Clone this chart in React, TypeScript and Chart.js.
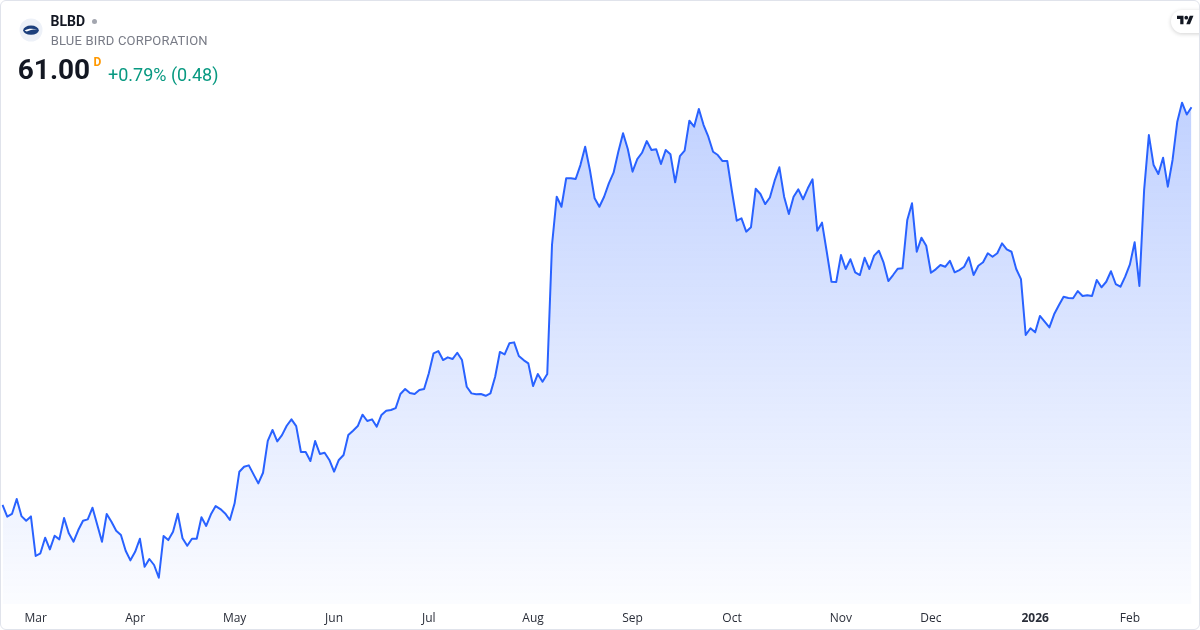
import React, { useEffect, useRef } from 'react';
import { Chart, registerables } from 'chart.js';

Chart.register(...registerables);

// ---- data ----
const START_DATE = '2025-02-20';
const END_DATE = '2026-02-20';
const MARKET_HOLIDAYS = [
  '2025-04-18', '2025-05-26', '2025-06-19', '2025-07-04', '2025-09-01',
  '2025-11-27', '2025-12-25', '2026-01-01', '2026-01-19', '2026-02-16',
];
const MONTH_LABELS = ['Jan', 'Feb', 'Mar', 'Apr', 'May', 'Jun', 'Jul', 'Aug', 'Sep', 'Oct', 'Nov', 'Dec'];

// daily closes, Feb 20 2025 – Jun 30 2025
const closesFebJun = [
  34.49, 33.71, 33.89, 34.89, 33.75, 33.44, 33.73, 31.09, 31.27, 32.31,
  31.53, 32.44, 32.20, 33.62, 32.60, 32.04, 32.82, 33.44, 33.53, 34.31,
  33.17, 32.04, 33.89, 33.37, 32.77, 32.49, 31.44, 30.80, 31.37, 32.24,
  30.37, 30.89, 30.49, 29.64, 32.42, 32.15, 32.71, 33.91, 32.27, 31.77,
  32.24, 32.24, 33.67, 33.09, 33.87, 34.42, 34.22, 33.93, 33.49, 34.60,
  36.71, 37.04, 37.13, 36.53, 35.93, 36.64, 38.77, 39.49, 38.73, 39.15,
  39.77, 40.20, 39.75, 38.02, 38.02, 37.42, 38.75, 37.89, 37.97, 37.49,
  36.71, 37.49, 37.82, 39.15, 39.44, 39.75, 40.51, 40.09, 40.20, 39.71,
  40.49, 40.77, 40.82, 40.95, 41.89, 42.22, 41.95, 41.89, 42.15, 42.22,
];
// daily closes, Jul 1 2025 – Dec 31 2025
const closesJulDec = [
  43.27, 44.60, 44.75, 44.15, 44.33, 44.22, 44.64, 44.15, 42.37, 41.93,
  41.87, 41.89, 41.77, 41.93, 43.04, 44.69, 44.53, 45.27, 45.33, 44.42,
  44.15, 43.93, 42.42, 43.22, 42.71, 43.22, 51.82, 55.04, 54.37, 56.27,
  56.27, 56.22, 57.15, 58.37, 56.82, 54.93, 54.37, 55.04, 55.93, 56.64,
  58.04, 59.27, 58.22, 56.71, 57.55, 57.97, 58.75, 58.15, 58.20, 57.22,
  58.15, 57.87, 56.00, 57.75, 58.11, 60.11, 59.71, 60.89, 59.82, 59.04,
  58.04, 57.82, 57.42, 57.42, 55.37, 53.44, 53.60, 52.71, 53.00, 55.57,
  55.22, 54.55, 54.99, 56.11, 57.00, 55.04, 53.89, 55.04, 55.53, 54.87,
  55.60, 56.20, 52.77, 53.31, 51.37, 49.37, 49.35, 51.15, 50.22, 50.87,
  50.00, 49.82, 50.97, 50.22, 51.11, 51.44, 50.64, 49.42, 49.82, 50.24,
  50.27, 53.49, 54.60, 51.37, 52.31, 51.77, 49.97, 50.20, 50.49, 50.37,
  50.77, 50.00, 50.15, 50.37, 51.00, 49.82, 50.44, 50.67, 51.27, 51.04,
  51.27, 51.93, 51.53, 51.37, 50.22, 49.55, 45.82, 46.27,
];
// daily closes, Jan 2 2026 – Feb 20 2026
const closes2026 = [
  46.00, 47.09, 46.71, 46.33, 47.20, 47.80, 48.37, 48.29, 48.27, 48.75,
  48.42, 48.47, 48.42, 49.49, 49.00, 49.37, 50.07, 49.22, 49.04, 49.71,
  50.53, 52.00, 49.09, 55.49, 59.15, 57.15, 56.55, 57.64, 55.71, 57.49,
  60.04, 61.31, 60.52, 61.00,
];
const closes = [...closesFebJun, ...closesJulDec, ...closes2026];

const Y_MIN = 27.89;
const Y_MAX = 62.82;

const LINE_COLOR = '#2962FF';
const AXIS_TEXT = '#2a2e39';

function buildTradingDays(start: string, end: string, holidays: string[]): Date[] {
  const out: Date[] = [];
  const hol = new Set(holidays);
  const d = new Date(start + 'T00:00:00Z');
  const e = new Date(end + 'T00:00:00Z');
  while (d.getTime() <= e.getTime()) {
    const wd = d.getUTCDay();
    const iso = d.toISOString().slice(0, 10);
    if (wd !== 0 && wd !== 6 && !hol.has(iso)) out.push(new Date(d.getTime()));
    d.setUTCDate(d.getUTCDate() + 1);
  }
  return out;
}

const TRADING_DAYS = buildTradingDays(START_DATE, END_DATE, MARKET_HOLIDAYS);

function tickLabel(i: number): string {
  if (i <= 0 || i >= TRADING_DAYS.length) return '';
  const d = TRADING_DAYS[i];
  const p = TRADING_DAYS[i - 1];
  if (d.getUTCMonth() === p.getUTCMonth()) return '';
  if (d.getUTCMonth() === 0) return String(d.getUTCFullYear());
  return MONTH_LABELS[d.getUTCMonth()];
}

export default function App() {
  const ref = useRef<HTMLCanvasElement | null>(null);

  useEffect(() => {
    document.body.style.margin = '0';
    const canvas = ref.current;
    if (!canvas) return;
    const labels = TRADING_DAYS.map((d) => d.toISOString().slice(0, 10));
    const chart = new Chart(canvas, {
      type: 'line',
      data: {
        labels,
        datasets: [
          {
            data: closes,
            borderColor: LINE_COLOR,
            borderWidth: 2,
            borderJoinStyle: 'round',
            pointRadius: 0,
            pointHoverRadius: 0,
            tension: 0,
            fill: 'start',
            backgroundColor: (c: any) => {
              const { ctx, chartArea } = c.chart;
              if (!chartArea) return 'rgba(41,98,255,0.15)';
              const g = ctx.createLinearGradient(0, chartArea.top, 0, chartArea.bottom);
              g.addColorStop(0, 'rgba(41,98,255,0.30)');
              g.addColorStop(1, 'rgba(41,98,255,0.02)');
              return g;
            },
          },
        ],
      },
      options: {
        responsive: false,
        animation: false,
        events: [],
        layout: { padding: { left: 2.5, right: 8.5, top: 80, bottom: 0 } },
        plugins: { legend: { display: false }, tooltip: { enabled: false } },
        scales: {
          x: {
            type: 'category',
            offset: false,
            grid: { display: false, drawTicks: false },
            border: { display: false },
            afterFit: (s: any) => {
              s.height = 26;
              s.paddingLeft = 0;
              s.paddingRight = 0;
            },
            ticks: {
              autoSkip: false,
              maxRotation: 0,
              minRotation: 0,
              padding: 7.3,
              color: AXIS_TEXT,
              font: (c: any) => ({
                family: '"Open Sans", sans-serif',
                size: 12,
                weight: c.tick && c.tick.label === '2026' ? 'bold' : 'normal',
              }),
              callback: (_v: any, i: number) => tickLabel(i),
            },
          },
          y: { display: false, min: Y_MIN, max: Y_MAX },
        },
      },
    } as any);
    return () => chart.destroy();
  }, []);

  const font = 'Roboto, "Noto Sans", sans-serif';

  return (
    <div style={{ position: 'relative', width: 1200, height: 630, overflow: 'hidden', background: '#fff', fontFamily: font }}>
      <canvas ref={ref} width={1200} height={630} style={{ position: 'absolute', left: 0, top: 0, display: 'block' }} />
      {/* logo */}
      <svg width={24} height={24} viewBox="0 0 24 24" style={{ position: 'absolute', left: 19, top: 18 }}>
        <circle cx={12} cy={12} r={11.5} fill="#edf1f8" />
        <ellipse cx={12} cy={12.2} rx={7.8} ry={4.6} fill="#1c3f7c" />
        <path d="M5.6 12.4 C8.8 10.3 13.4 10.2 18.4 11.5 C14.2 11.3 10.6 11.9 7.8 13.6 Z" fill="#ffffff" />
      </svg>
      <div style={{ position: 'absolute', left: 50.6, top: 14.2, fontSize: 14, lineHeight: '14px', fontWeight: 700, color: '#131722', whiteSpace: 'nowrap' }}>BLBD</div>
      <div style={{ position: 'absolute', left: 91.5, top: 18.5, width: 5, height: 5, borderRadius: '50%', background: '#a3a6af' }} />
      <div style={{ position: 'absolute', left: 50.7, top: 34, fontSize: 13, lineHeight: '13px', letterSpacing: 0.2, color: '#787b86', whiteSpace: 'nowrap' }}>BLUE BIRD CORPORATION</div>
      <div style={{ position: 'absolute', left: 17.8, top: 56.4, fontSize: 28, lineHeight: '28px', fontWeight: 700, color: '#131722', whiteSpace: 'nowrap' }}>61.00</div>
      <div style={{ position: 'absolute', left: 93.5, top: 55.9, fontSize: 12, lineHeight: '12px', fontWeight: 700, color: '#ff9800', whiteSpace: 'nowrap' }}>D</div>
      <div style={{ position: 'absolute', left: 108, top: 65.8, fontSize: 18, lineHeight: '18px', color: '#089981', whiteSpace: 'nowrap' }}>+0.79% (0.48)</div>
      {/* TradingView badge */}
      <div style={{ position: 'absolute', left: 1171, top: 10, width: 44, height: 23, borderRadius: 12, background: '#fff', boxShadow: '0 1px 4px rgba(0,0,0,0.18)' }} />
      <svg width={16.7} height={13} viewBox="0 0 36 28" style={{ position: 'absolute', left: 1177.3, top: 13.8 }}>
        <path d="M14 22H7V11H0V4h14v18zM28 22h-8l7.5-18h8L28 22z" fill="#131722" />
        <circle cx={20} cy={8} r={4} fill="#131722" />
      </svg>
      {/* frame */}
      <div style={{ position: 'absolute', left: 0, top: 0, right: 0, bottom: 0, border: '1px solid #e0e3eb', borderRadius: 6, pointerEvents: 'none' }} />
    </div>
  );
}
